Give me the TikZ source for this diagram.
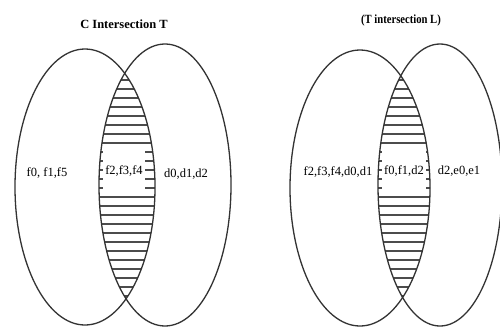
\documentclass[tikz,border=0pt]{standalone}
\usepackage{fontspec}
\setmainfont{Liberation Serif}
\begin{document}
\begin{tikzpicture}[x=1pt,y=-1pt,
  venn/.style={draw=black!80,line width=1.3pt},
  hatch/.style={draw=black!70,line width=1.6pt},
  lbl/.style={font=\fontsize{12.5}{14}\selectfont,inner sep=1pt},
  lenslbl/.style={lbl,fill=white,inner sep=2pt,minimum height=44pt},
  ttl/.style={font=\bfseries\fontsize{12.5}{14}\selectfont}]
\useasboundingbox (0,0) rectangle (500,327);
\fill[white] (0,0) rectangle (500,327);
% left pair
\begin{scope}
  \clip (85,187) ellipse [x radius=70,y radius=138];
  \clip (165,185) ellipse [x radius=66,y radius=141];
  \foreach \yy in {80,89,...,300} \draw[hatch] (90,\yy) -- (170,\yy);
\end{scope}
\draw[venn] (85,187) ellipse [x radius=70,y radius=138];
\draw[venn] (165,185) ellipse [x radius=66,y radius=141];
% right pair
\begin{scope}
  \clip (360,188) ellipse [x radius=70,y radius=138];
  \clip (440,185) ellipse [x radius=62,y radius=141];
  \foreach \yy in {80,89,...,300} \draw[hatch] (370,\yy) -- (440,\yy);
\end{scope}
\draw[venn] (360,188) ellipse [x radius=70,y radius=138];
\draw[venn] (440,185) ellipse [x radius=62,y radius=141];
% titles
\node[ttl] (t1) at (124,24) {C Intersection T};
\node[ttl,xscale=0.85] (t2) at (401,20) {(T intersection L)};
% labels
\node[lbl] (a1) at (47,173) {f0, f1,f5};
\node[lenslbl] (b1) at (124,171) {f2,f3,f4};
\node[lbl] (c1) at (186,174) {d0,d1,d2};
\node[lbl] (a2) at (338,172) {f2,f3,f4,d0,d1};
\node[lenslbl] (b2) at (404,171) {f0,f1,d2};
\node[lbl] (c2) at (459,171) {d2,e0,e1};
\end{tikzpicture}
\end{document}
